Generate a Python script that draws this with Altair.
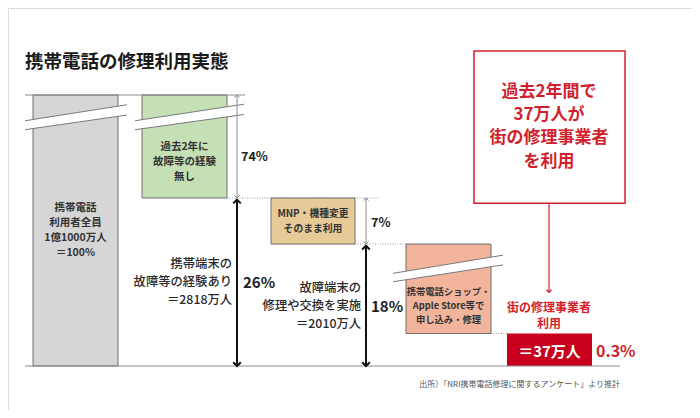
import altair as alt
import pandas as pd

# ---------------- data ----------------
title = "携帯電話の修理利用実態"
segments = ["携帯電話利用者全員", "過去2年に故障等の経験無し", "MNP・機種変更そのまま利用",
            "携帯電話ショップ・Apple Store等で申し込み・修理", "街の修理事業者利用"]
# schematic (broken axis) extents of each block: 0 = baseline, 100 = all users
seg_bottom = [0, 62, 45, 12, 0]
seg_top = [100, 100, 62, 45, 12]
box_lines = [
    ["携帯電話", "利用者全員", "1億1000万人", "＝100%"],
    ["過去2年に", "故障等の経験", "無し"],
    ["MNP・機種変更", "そのまま利用"],
    ["携帯電話ショップ・", "Apple Store等で", "申し込み・修理"],
]
share_labels = ["74%", "26%", "7%", "18%"]
share_from = [100, 62, 62, 45]
share_to = [62, 0, 45, 0]
group_lines = [
    ["携帯端末の", "故障等の経験あり", "＝2818万人"],
    ["故障端末の", "修理や交換を実施", "＝2010万人"],
]
street_value = "＝37万人"
street_share = "0.3%"
street_label = ["街の修理事業者", "利用"]
callout = ["過去2年間で", "37万人が", "街の修理事業者", "を利用"]
source = "出所）「NRI携帯電話修理に関するアンケート」より推計"

# ---------------- layout (positions / styles) ----------------
FONT = "Noto Sans CJK JP"
col_left = [33, 142, 271, 406, 507]
col_right = [118, 227, 355, 491, 592]
fills = ["#d6d6d6", "#c5e0b4", "#e6ca98", "#f2b59b", "#c8001e"]
RED = "#d21f2d"

X = alt.Scale(domain=[0, 700], range=[-8, 692])
Y = alt.Scale(domain=[0, 100], range=[358, 87])


def xe(f="x"):
    return alt.X(f"{f}:Q", scale=X, axis=None)


def ye(f="y"):
    return alt.Y(f"{f}:Q", scale=Y, axis=None)


layers = []

# blocks
bars = pd.DataFrame({"seg": segments, "x": col_left, "x2": col_right,
                     "y": seg_bottom, "y2": seg_top, "fill": fills})
layers.append(alt.Chart(bars[:4]).mark_rect(stroke="#6e6e6e", strokeWidth=1).encode(
    x=xe(), x2="x2:Q", y=ye(), y2="y2:Q", fill=alt.Fill("fill:N", scale=None)))
layers.append(alt.Chart(bars[4:]).mark_rect().encode(
    x=xe(), x2="x2:Q", y=ye(), y2="y2:Q", fill=alt.Fill("fill:N", scale=None)))

# break marks (white gap + two thin lines)
brk = pd.DataFrame({
    "g": ["a", "a", "b", "b", "c", "c"],
    "x": [25, 127, 135, 244, 393, 503],
    "up": [90.5, 96.4, 90.5, 96.6, 34.2, 40.9],
    "lo": [87.2, 92.6, 87.2, 92.8, 31.1, 37.3],
})
layers.append(alt.Chart(brk).mark_area(color="white", opacity=1).encode(
    x=xe(), y=ye("up"), y2="lo:Q", detail="g:N"))
for f in ["up", "lo"]:
    layers.append(alt.Chart(brk).mark_line(color="#7a7a7a", strokeWidth=1).encode(
        x=xe(), y=ye(f), detail="g:N"))

# horizontal rules
rules = pd.DataFrame({"x": [25, 25], "x2": [245, 620], "y": [100, 0]})
layers.append(alt.Chart(rules).mark_rule(color="#8c8c8c", strokeWidth=1.2).encode(
    x=xe(), x2="x2:Q", y=ye()))
dots = pd.DataFrame({"x": [227, 355, 491], "x2": [378, 410, 507], "y": [62, 45, 12]})
layers.append(alt.Chart(dots).mark_rule(color="#9a9a9a", strokeWidth=1, strokeDash=[1, 1.5]).encode(
    x=xe(), x2="x2:Q", y=ye()))

# arrows
arr_x = [237, 237, 366, 366]
thin = pd.DataFrame({"x": [arr_x[0], arr_x[2]], "y": [share_from[0], share_from[2]],
                     "y2": [share_to[0], share_to[2]]})
thick = pd.DataFrame({"x": [arr_x[1], arr_x[3]], "y": [share_from[1] - 0.6, share_from[3] - 0.6],
                      "y2": [share_to[1], share_to[3]]})
layers.append(alt.Chart(thin).mark_rule(color="#8c8c8c", strokeWidth=1).encode(
    x=xe(), y=ye(), y2="y2:Q"))
layers.append(alt.Chart(thick).mark_rule(color="#111111", strokeWidth=2).encode(
    x=xe(), y=ye(), y2="y2:Q"))
UP = "M -0.8 0.8 L 0 0 L 0.8 0.8"
DOWN = "M -0.8 -0.8 L 0 0 L 0.8 -0.8"
for df, shape, color, size, sw in [
    (thin.rename(columns={"y": "p"}), UP, "#8c8c8c", 40, 1),
    (thin.rename(columns={"y2": "p"}), DOWN, "#8c8c8c", 40, 1),
    (thick.rename(columns={"y": "p"}), UP, "#111111", 90, 2),
    (thick.rename(columns={"y2": "p"}), DOWN, "#111111", 90, 2),
]:
    layers.append(alt.Chart(df).mark_point(shape=shape, filled=False, color=color, size=size,
                                            strokeWidth=sw, opacity=1).encode(x=xe(), y=ye("p")))

# share labels
sh = pd.DataFrame({"t": share_labels, "x": [241, 243, 371, 371],
                   "y": [77.1, 30.6, 52.8, 21.8], "fs": [12.5, 15, 12.5, 15]})
for i, r in sh.iterrows():
    layers.append(alt.Chart(sh.iloc[[i]]).mark_text(
        font=FONT, fontWeight="bold", fontSize=r.fs, align="left", baseline="middle",
        color="#222222").encode(x=xe(), y=ye(), text="t:N"))

# text inside blocks
box_centers = [(75.5, [58.3, 52.8, 47.2, 41.7], 10.5), (184.5, [80.8, 75.3, 69.7], 10.5),
               (313, [56.0, 50.7], 9.8), (448.5, [27.2, 22.0, 16.8], 9.3)]
for lines, (cx, ys, fs) in zip(box_lines, box_centers):
    bt = pd.DataFrame({"t": lines, "x": [cx] * len(lines), "y": ys[:len(lines)]})
    layers.append(alt.Chart(bt).mark_text(font=FONT, fontWeight="bold", fontSize=fs,
                                          color="#333333", baseline="middle").encode(
        x=xe(), y=ye(), text="t:N"))

# group descriptions
rows = []
for lines, (rx, ys) in zip(group_lines, [(232, [37.7, 31.0, 24.3]), (361, [28.8, 22.1, 15.4])]):
    for t, yy in zip(lines, ys):
        rows.append({"t": t, "x": rx, "y": yy})
gt = pd.DataFrame(rows)
layers.append(alt.Chart(gt).mark_text(font=FONT, fontWeight=500, fontSize=12.3,
                                      color="#2a2a2a", align="right", baseline="middle").encode(
    x=xe(), y=ye(), text="t:N"))

# street repair
sv = pd.DataFrame({"t": [street_value], "x": [549.5], "y": [5.2]})
layers.append(alt.Chart(sv).mark_text(font=FONT, fontWeight="bold", fontSize=15,
                                      color="white", baseline="middle").encode(
    x=xe(), y=ye(), text="t:N"))
ss = pd.DataFrame({"t": [street_share], "x": [596], "y": [5.2]})
layers.append(alt.Chart(ss).mark_text(font=FONT, fontWeight="bold", fontSize=16,
                                      color=RED, align="left", baseline="middle").encode(
    x=xe(), y=ye(), text="t:N"))
sl = pd.DataFrame({"t": street_label, "x": [549, 549], "y": [21.4, 15.5]})
layers.append(alt.Chart(sl).mark_text(font=FONT, fontWeight="bold", fontSize=12,
                                      color=RED, baseline="middle").encode(
    x=xe(), y=ye(), text="t:N"))

# callout box + arrow
cb = pd.DataFrame({"x": [474], "x2": [625], "y": [60.1], "y2": [116.2]})
layers.append(alt.Chart(cb).mark_rect(fill="white", fillOpacity=0, stroke=RED, strokeWidth=1.5).encode(
    x=xe(), x2="x2:Q", y=ye(), y2="y2:Q"))
ct = pd.DataFrame({"t": callout, "x": [549] * 4, "y": [101.1, 92.6, 84.1, 75.3]})
layers.append(alt.Chart(ct).mark_text(font=FONT, fontWeight="bold", fontSize=17,
                                      color=RED, baseline="middle").encode(
    x=xe(), y=ye(), text="t:N"))
ca = pd.DataFrame({"x": [549], "y": [60.1], "y2": [27.2]})
layers.append(alt.Chart(ca).mark_rule(color=RED, strokeWidth=1.2).encode(x=xe(), y=ye(), y2="y2:Q"))
layers.append(alt.Chart(ca).mark_point(shape=DOWN, filled=False, color=RED, size=40,
                                       strokeWidth=1.2, opacity=1).encode(x=xe(), y=ye("y2")))

# title and source
tt = pd.DataFrame({"t": [title], "x": [25], "y": [112.2]})
layers.append(alt.Chart(tt).mark_text(font=FONT, fontWeight="bold", fontSize=18.5,
                                      color="#1a1a1a", align="left", baseline="middle").encode(
    x=xe(), y=ye(), text="t:N"))
so = pd.DataFrame({"t": [source], "x": [620], "y": [-7.0]})
layers.append(alt.Chart(so).mark_text(font=FONT, fontSize=8, color="#555555",
                                      align="right", baseline="middle").encode(
    x=xe(), y=ye(), text="t:N"))

chart = alt.layer(*layers).properties(width=684, height=402, padding=0).configure_view(
    stroke=None).configure(background="white")
chart.save("out.html", embed_options={"renderer": "svg", "actions": False})
